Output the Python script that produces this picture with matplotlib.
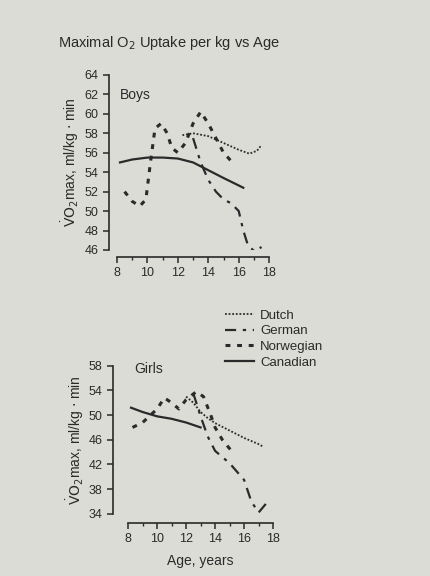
import matplotlib
matplotlib.use("Agg")
import matplotlib.pyplot as plt

plt.rcParams['font.family'] = ['Liberation Sans', 'DejaVu Sans']

# Boys data (age, VO2max ml/kg/min)
boys_dutch_x = [12.3, 13.0, 14.0, 15.0, 16.0, 16.7, 17.2, 17.5]
boys_dutch_y = [57.8, 58.0, 57.7, 57.0, 56.3, 55.9, 56.2, 56.8]
boys_german_x = [13.0, 13.5, 14.0, 14.5, 15.0, 15.5, 16.0, 16.3, 16.6, 17.0, 17.5]
boys_german_y = [57.5, 55.0, 53.2, 52.0, 51.2, 50.8, 50.0, 48.0, 46.5, 45.9, 46.3]
boys_norw_x = [8.5, 9.0, 9.5, 9.9, 10.2, 10.5, 10.9, 11.3, 11.6, 12.0, 12.5, 13.0, 13.5, 14.0, 14.5, 15.0, 15.7]
boys_norw_y = [52.0, 51.0, 50.5, 51.2, 55.0, 58.5, 59.0, 58.0, 56.5, 56.0, 57.0, 59.0, 60.2, 59.0, 57.5, 56.0, 54.8]
boys_can_x = [8.2, 9.0, 10.0, 11.0, 12.0, 13.0, 14.0, 15.0, 16.3]
boys_can_y = [55.0, 55.3, 55.5, 55.5, 55.4, 55.0, 54.2, 53.4, 52.4]

# Girls data
girls_dutch_x = [12.0, 12.5, 13.0, 13.5, 14.0, 15.0, 16.0, 17.0, 17.3]
girls_dutch_y = [53.0, 52.0, 50.5, 49.5, 48.7, 47.5, 46.3, 45.3, 44.9]
girls_german_x = [12.5, 13.0, 13.5, 14.0, 15.0, 16.0, 16.5, 17.0, 17.5]
girls_german_y = [53.5, 49.8, 46.5, 44.2, 42.2, 39.5, 36.0, 34.2, 35.6]
girls_norw_x = [8.3, 9.0, 10.0, 10.5, 11.0, 11.5, 12.0, 12.7, 13.2, 13.7, 14.0, 14.5, 15.2]
girls_norw_y = [48.0, 48.8, 51.0, 52.8, 52.0, 51.0, 52.5, 53.8, 53.0, 50.0, 48.0, 46.0, 44.0]
girls_can_x = [8.2, 9.0, 10.0, 11.0, 12.0, 13.0]
girls_can_y = [51.2, 50.5, 49.8, 49.4, 48.8, 48.0]

ink = '#2a2a2a'
paper = '#dcdcd6'

styles = {
    'Dutch': dict(linestyle=(0, (1, 1)), lw=1.3),
    'German': dict(linestyle=(0, (5, 3, 1.5, 3)), lw=1.6),
    'Norwegian': dict(linestyle=(0, (1.6, 2.2)), lw=2.2),
    'Canadian': dict(linestyle='-', lw=1.6),
}

fig = plt.figure(figsize=(4.3, 5.76), dpi=100, facecolor=paper)

def style_axes(ax, yoff, xoff):
    # offsets are in points (dpi 100 -> 1 pt = 1.39 px)
    ax.set_facecolor(paper)
    ax.spines['top'].set_visible(False)
    ax.spines['right'].set_visible(False)
    ax.spines['left'].set_position(('outward', yoff))
    ax.spines['bottom'].set_position(('outward', xoff))
    for s in ('left', 'bottom'):
        ax.spines[s].set_color(ink)
        ax.spines[s].set_linewidth(1.2)
    ax.tick_params(colors=ink, labelsize=9, width=1.1, length=4)
    ax.tick_params(which='minor', colors=ink, width=1.0, length=2.5)
    ax.set_xlim(8, 18)
    ax.set_xticks(range(8, 19, 2))
    ax.set_xticks(range(8, 19), minor=True)
    ax.set_ylabel(r'$\dot{\mathrm{V}}\mathrm{O}_2$max, ml/kg $\cdot$ min',
                  color=ink, fontsize=10, labelpad=2)

# Boys
ax1 = fig.add_axes([0.272, 0.566, 0.354, 0.304])
style_axes(ax1, 6, 5)
ax1.set_ylim(46, 64)
ax1.set_yticks(range(46, 65, 2))
ax1.plot(boys_dutch_x, boys_dutch_y, color=ink, **styles['Dutch'])
ax1.plot(boys_german_x, boys_german_y, color=ink, **styles['German'])
ax1.plot(boys_norw_x, boys_norw_y, color=ink, **styles['Norwegian'])
ax1.plot(boys_can_x, boys_can_y, color=ink, **styles['Canadian'])
ax1.text(0.02, 0.885, 'Boys', transform=ax1.transAxes, color=ink, fontsize=10,
         ha='left', va='center')

# Girls
ax2 = fig.add_axes([0.298, 0.108, 0.337, 0.257])
style_axes(ax2, 11, 6.5)
ax2.set_ylim(34, 58)
ax2.set_yticks(range(34, 59, 4))
ax2.plot(girls_dutch_x, girls_dutch_y, color=ink, **styles['Dutch'])
ax2.plot(girls_german_x, girls_german_y, color=ink, **styles['German'])
ax2.plot(girls_norw_x, girls_norw_y, color=ink, **styles['Norwegian'])
ax2.plot(girls_can_x, girls_can_y, color=ink, **styles['Canadian'])
ax2.text(0.04, 0.98, 'Girls', transform=ax2.transAxes, color=ink, fontsize=10,
         ha='left', va='center')
ax2.set_xlabel('Age, years', color=ink, fontsize=10, labelpad=6)

# Legend
handles = [plt.Line2D([], [], color=ink, **styles[k]) for k in styles]
fig.legend(handles, list(styles.keys()), loc='upper left',
           bbox_to_anchor=(0.495, 0.483), frameon=False, fontsize=9.5,
           handlelength=2.2, labelspacing=0.25, handletextpad=0.5,
           labelcolor=ink)

fig.text(0.135, 0.925, r'Maximal O$_2$ Uptake per kg vs Age', color=ink,
         fontsize=10.5, ha='left', va='center')

fig.savefig('out.png', dpi=100, facecolor=paper)
